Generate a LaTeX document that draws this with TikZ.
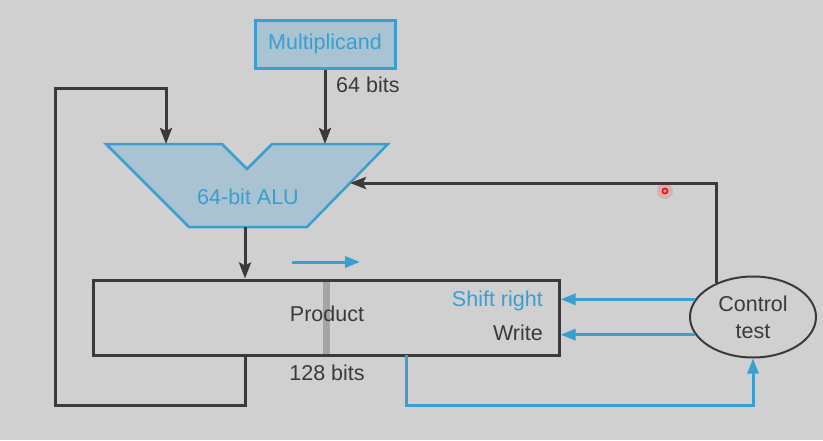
\documentclass[tikz,border=0pt]{standalone}
\usepackage{fontspec}
\setmainfont{Liberation Sans}
\usetikzlibrary{arrows.meta,shapes.geometric}
\definecolor{bgc}{HTML}{D0D0D0}
\definecolor{dk}{HTML}{3A3A3A}
\definecolor{bl}{HTML}{3A9FD0}
\definecolor{alufill}{HTML}{A9C3D2}
\definecolor{barc}{HTML}{A4A4A4}
\begin{document}
\begin{tikzpicture}[x=1pt,y=-1pt,
  dkline/.style={draw=dk,line width=3pt},
  blline/.style={draw=bl,line width=3pt},
  dktip/.style={-{Stealth[length=16pt,width=12pt,inset=3pt]}},
  bltip/.style={-{Triangle[length=15pt,width=11pt]}},
  lbl/.style={font=\fontsize{21.5}{25}\selectfont, inner sep=0pt}]
\fill[bgc] (0,0) rectangle (823,440);
\useasboundingbox (0,0) rectangle (823,440);

% Multiplicand
\node[lbl, text=bl, draw=bl, line width=3pt, fill=alufill, minimum width=140pt, minimum height=48pt] (mult) at (325,44) {Multiplicand};
\node[lbl, text=dk, anchor=west] (b64) at (336,85) {64 bits};

% ALU
\draw[draw=bl, line width=2.5pt, fill=alufill, line join=miter]
  (106,144) -- (222,144) -- (247,169) -- (272,144) -- (388,144) -- (307,227) -- (189,227) -- cycle;
\node[lbl, text=bl] (alu) at (248,197) {64-bit ALU};
\coordinate (aluL) at (166,144);
\coordinate (aluR) at (325,144);
\coordinate (aluOut) at (245,227);
\coordinate (aluCtl) at (350,183);

% Product
\draw[barc, line width=7pt] (326,280) -- (326,355);
\node[draw=dk, line width=3pt, minimum width=466pt, minimum height=75pt, inner sep=0pt] (prod) at (326,317.5) {};
\node[lbl, text=dk] (ptxt) at (327,314) {Product};
\node[lbl, text=bl, anchor=east] (shr) at (543,301) {Shift right};
\node[lbl, text=dk, anchor=east] (wr) at (543,333) {Write};
\node[lbl, text=dk] (b128) at (327,373) {128 bits};
\coordinate (pb1) at (245,355);
\coordinate (pb2) at (406,355);

% Control
\node[ellipse, draw=dk, line width=2pt, minimum width=126pt, minimum height=81pt, inner sep=0pt, align=center, font=\fontsize{21.5}{27}\selectfont, text=dk] (ctrl) at (753,317) {Control\\test};

% Connectors
\draw[dkline, dktip] (mult.south) -- (aluR);
\coordinate (fbA) at (55,405);
\coordinate (fbB) at (55,88);
\draw[dkline, dktip, line join=miter] (pb1) |- (fbA) -- (fbB) -| (aluL);
\draw[dkline, dktip] (aluOut) -- (aluOut |- prod.north);
\draw[dkline, dktip, line join=miter] (ctrl.137) |- (aluCtl);

\coordinate (sh1) at (292,262);
\coordinate (sh2) at (360,262);
\draw[blline, bltip] (sh1) -- (sh2);
\draw[blline, bltip] (ctrl.163) -- (ctrl.163 -| prod.east);
\draw[blline, bltip] (ctrl.197) -- (ctrl.197 -| prod.east);
\coordinate (blc) at (406,405);
\draw[blline, bltip, line join=miter] (pb2) -- (blc) -| (ctrl.south);

% pointer dot
\fill[red, opacity=0.15] (665,191) circle (8pt);
\draw[red, line width=1.5pt] (665,191) circle (2.6pt);
\end{tikzpicture}
\end{document}
